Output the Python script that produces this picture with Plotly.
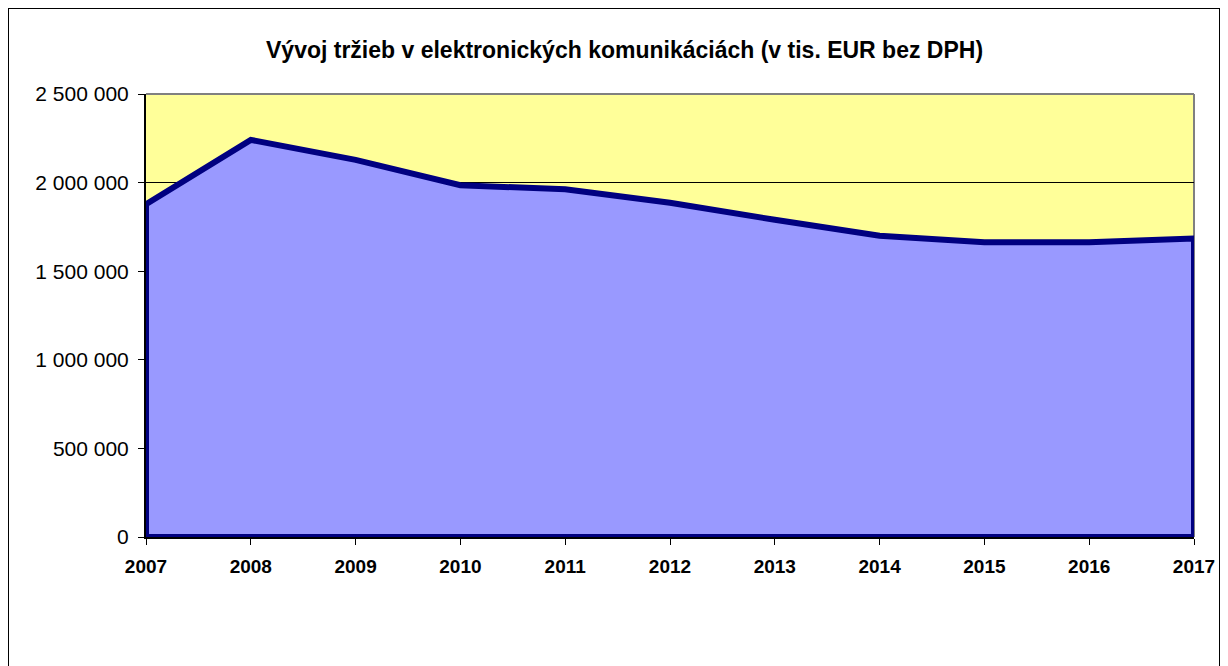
import plotly.graph_objects as go

years = [2007, 2008, 2009, 2010, 2011, 2012, 2013, 2014, 2015, 2016, 2017]
revenue = [1878000, 2241000, 2128000, 1985000, 1962000, 1886000, 1790000, 1700000, 1664000, 1664000, 1684000]
y_ticks = [0, 500000, 1000000, 1500000, 2000000, 2500000]
y_tick_labels = ["0", "500 000", "1 000 000", "1 500 000", "2 000 000", "2 500 000"]
title_text = "Vývoj tržieb v elektronických komunikáciách (v tis. EUR bez DPH)"

# closed polygon: data line plus baseline back to start
poly_x = years + [years[-1], years[0], years[0]]
poly_y = revenue + [0, 0, revenue[0]]

fig = go.Figure()
fig.add_trace(go.Scatter(
    x=poly_x, y=poly_y, mode="lines", fill="toself",
    fillcolor="#9999FF", line=dict(color="#000080", width=6),
    hoverinfo="skip", showlegend=False,
))

OFF = 8  # page body margin offset
W, H = 1228, 666
L, R, T, B = 146 - OFF, 1194 - OFF, 94 - OFF, 537 - OFF
fig.update_layout(
    width=W, height=H,
    margin=dict(l=L, r=W - R, t=T, b=H - B),
    paper_bgcolor="white", plot_bgcolor="#FFFF99",
    font=dict(family="Liberation Sans, Arial, sans-serif", color="black"),
    showlegend=False,
)
fig.update_xaxes(
    range=[years[0], years[-1]], tickmode="array", tickvals=years,
    ticktext=[str(y) for y in years],
    showgrid=False, zeroline=False,
    showline=True, linecolor="black", linewidth=2,
    ticks="outside", ticklen=6, tickcolor="black", tickwidth=1,
    ticklabelstandoff=5,
    tickfont=dict(size=19, family="Liberation Sans, Arial, sans-serif", weight="bold"),
)
fig.update_yaxes(
    range=[0, 2500000], tickmode="array", tickvals=y_ticks, ticktext=y_tick_labels,
    showgrid=True, gridcolor="black", gridwidth=1, zeroline=False,
    showline=True, linecolor="black", linewidth=2,
    ticks="outside", ticklen=6, tickcolor="black", tickwidth=1,
    ticklabelstandoff=5,
    tickfont=dict(size=21),
)

pw, ph = R - L, B - T
def px_x(p):
    return (p - OFF - L) / pw
def px_y(p):
    return (B - (p - OFF)) / ph

# plot-area grey border top and right
fig.add_shape(type="line", xref="paper", yref="paper", x0=0, x1=1, y0=1, y1=1,
              line=dict(color="#808080", width=2), layer="above")
fig.add_shape(type="line", xref="paper", yref="paper", x0=1, x1=1, y0=0, y1=1,
              line=dict(color="#808080", width=2), layer="below")
# outer chart border
fig.add_shape(type="rect", xref="paper", yref="paper",
              x0=px_x(8), x1=px_x(1220), y0=px_y(700), y1=px_y(8),
              line=dict(color="black", width=2), fillcolor="rgba(0,0,0,0)", layer="above")

fig.add_annotation(
    text=title_text, xref="paper", yref="paper",
    x=px_x(624), y=px_y(50), xanchor="center", yanchor="middle",
    showarrow=False, font=dict(size=23, weight="bold", family="Liberation Sans, Arial, sans-serif"),
)

fig.write_html("out.html")
